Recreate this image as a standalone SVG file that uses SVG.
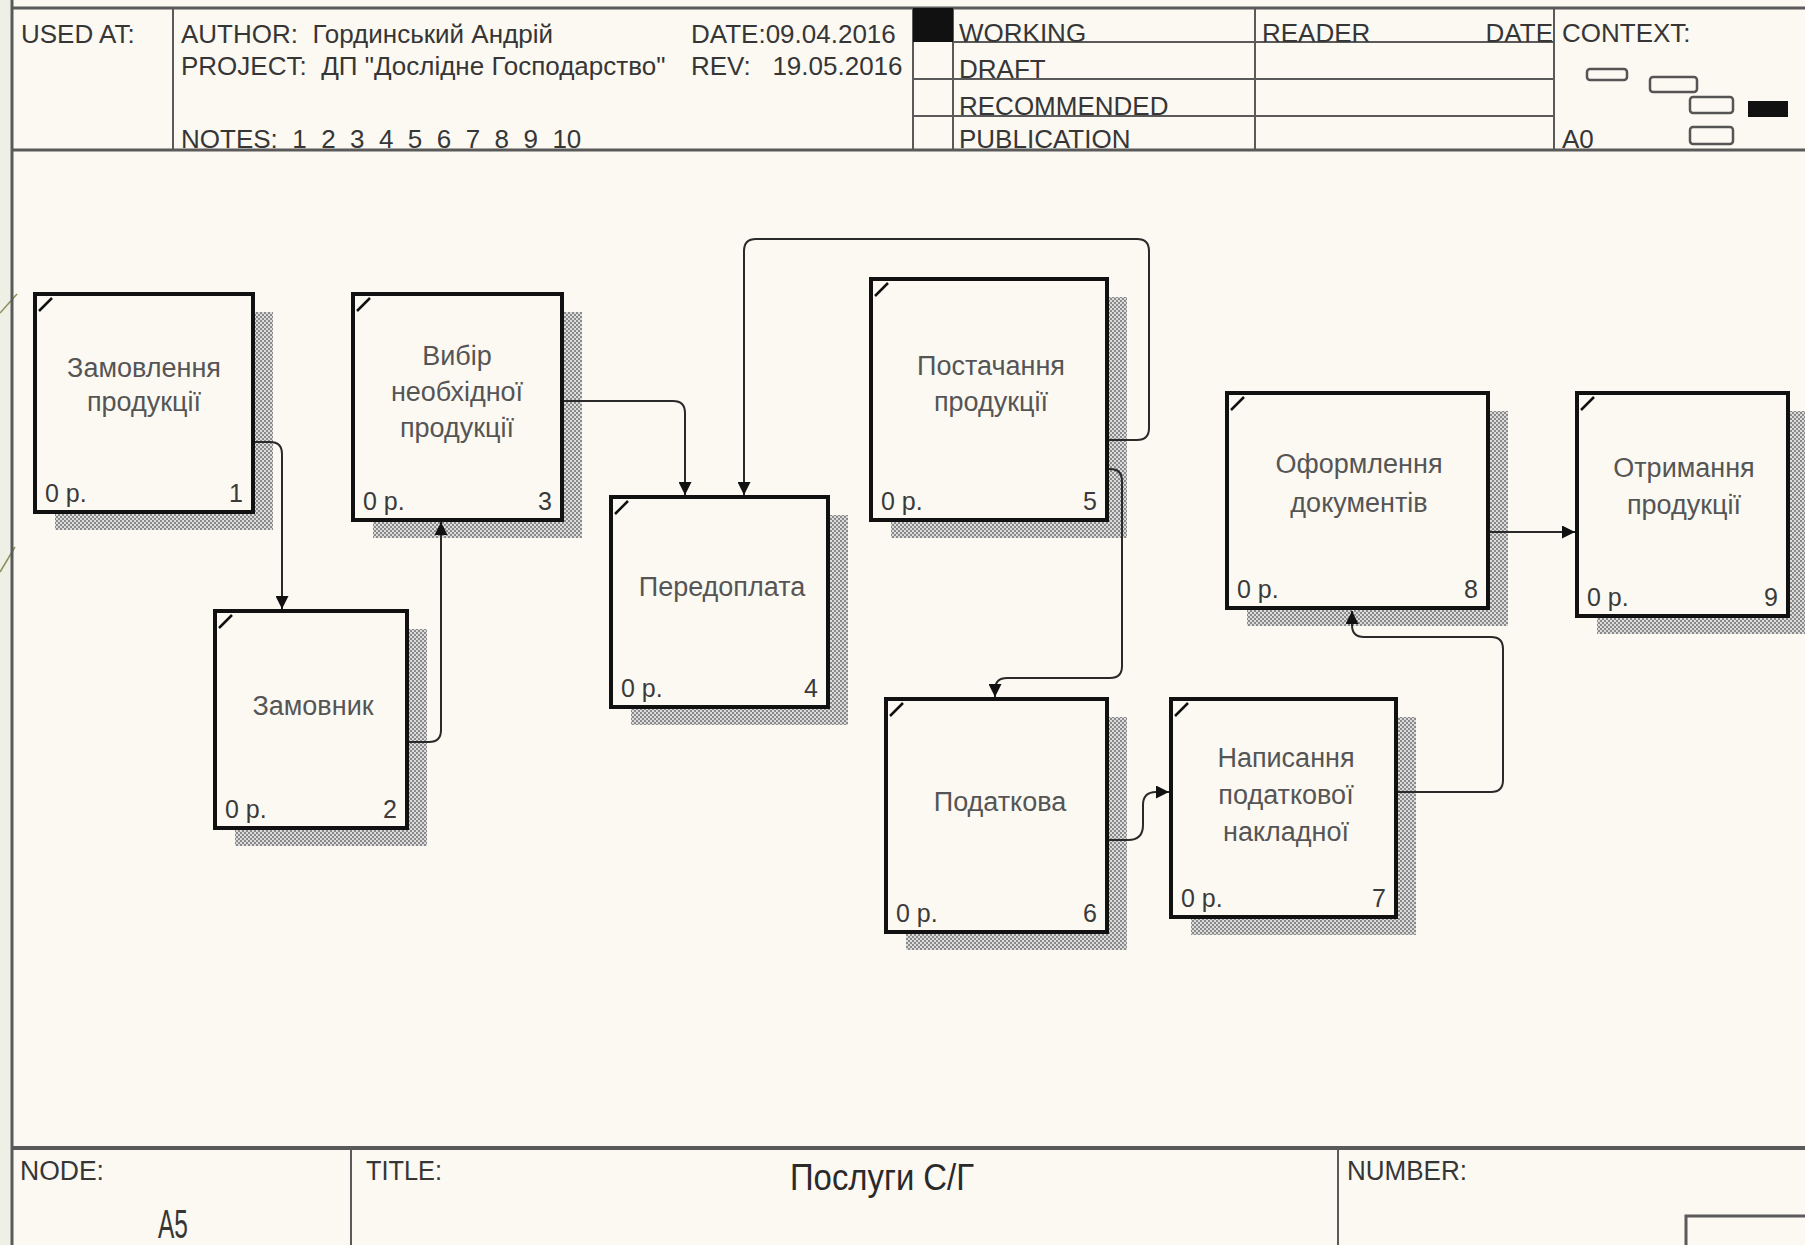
<svg xmlns="http://www.w3.org/2000/svg" width="1805" height="1245" viewBox="0 0 1805 1245">
<defs>
<style>
.frame{stroke:#5a5a5a;stroke-width:3;fill:none}
.thin{stroke:#5a5a5a;stroke-width:2;fill:none}
.hdr{font-family:'Liberation Sans',Arial,sans-serif;font-size:26px;fill:#363636}
.lbl{font-family:'Liberation Sans',Arial,sans-serif;font-size:27px;fill:#555;text-anchor:middle}
.cost{font-family:'Liberation Sans',Arial,sans-serif;font-size:25px;fill:#3a3a3a}
.num{font-family:'Liberation Sans',Arial,sans-serif;font-size:25px;fill:#3a3a3a;text-anchor:end}
.box{fill:#fcf9f3;stroke:#111;stroke-width:4}
.shadow{fill:url(#hatch)}
.corner{stroke:#111;stroke-width:2.5;fill:none}
.conn{stroke:#2a2a2a;stroke-width:2;fill:none}
.ctx{fill:none;stroke:#555;stroke-width:2.5}
</style>
<pattern id="hatch" width="4" height="4" patternUnits="userSpaceOnUse">
<rect width="4" height="4" fill="#dcdcdc"/>
<rect width="2" height="2" fill="#8a8a8a"/>
<rect x="2" y="2" width="2" height="2" fill="#8a8a8a"/>
</pattern>
<marker id="arr" viewBox="0 0 10 10" refX="10" refY="5" markerWidth="14" markerHeight="13" markerUnits="userSpaceOnUse" orient="auto">
<path d="M0,0 L10,5 L0,10 z" fill="#111"/>
</marker>
</defs>

<rect x="0" y="0" width="1805" height="1245" fill="#fcf9f3"/>
<rect x="0" y="0" width="11" height="1245" fill="#eef0e6"/>
<line x1="17" y1="294" x2="0" y2="313" stroke="#8a8f5a" stroke-width="1.5"/>
<line x1="15" y1="547" x2="0" y2="572" stroke="#8a8f5a" stroke-width="1.5"/>

<g id="frame">
<line class="frame" x1="12" y1="0" x2="12" y2="1245"/>
<line class="frame" x1="12" y1="8" x2="1805" y2="8"/>
<line class="frame" x1="12" y1="150" x2="1805" y2="150"/>
<line class="frame" x1="12" y1="1148" x2="1805" y2="1148" style="stroke-width:4px"/>
<line class="thin" x1="173" y1="8" x2="173" y2="150"/>
<line class="thin" x1="913" y1="8" x2="913" y2="150"/>
<line class="thin" x1="953" y1="8" x2="953" y2="150"/>
<line class="thin" x1="1255" y1="8" x2="1255" y2="150"/>
<line class="thin" x1="1554" y1="8" x2="1554" y2="150"/>
<line class="thin" x1="953" y1="42" x2="1554" y2="42"/>
<line class="thin" x1="913" y1="79" x2="1554" y2="79"/>
<line class="thin" x1="913" y1="116" x2="1554" y2="116"/>
<rect x="913" y="8" width="40" height="34" fill="#111"/>
<line class="thin" x1="351" y1="1148" x2="351" y2="1245"/>
<line class="thin" x1="1338" y1="1148" x2="1338" y2="1245"/>
<path class="frame" d="M1686,1245 V1216 H1805"/>

<text class="hdr" x="21" y="43">USED AT:</text>
<text class="hdr" x="181" y="43" xml:space="preserve">AUTHOR:  Гординський Андрій</text>
<text class="hdr" x="691" y="43">DATE:09.04.2016</text>
<text class="hdr" x="181" y="75" xml:space="preserve">PROJECT:  ДП "Дослідне Господарство"</text>
<text class="hdr" x="691" y="75" xml:space="preserve">REV:   19.05.2016</text>
<text class="hdr" x="181" y="148" xml:space="preserve">NOTES:  1  2  3  4  5  6  7  8  9  10</text>
<text class="hdr" x="959" y="42">WORKING</text>
<text class="hdr" x="959" y="78">DRAFT</text>
<text class="hdr" x="959" y="115">RECOMMENDED</text>
<text class="hdr" x="959" y="148">PUBLICATION</text>
<text class="hdr" x="1262" y="42">READER</text>
<text class="hdr" x="1553" y="42" text-anchor="end">DATE</text>
<text class="hdr" x="1562" y="42">CONTEXT:</text>
<text class="hdr" x="1562" y="148">A0</text>
<rect class="ctx" x="1587" y="69" width="40" height="11" rx="3"/>
<rect class="ctx" x="1650" y="77" width="47" height="15" rx="3"/>
<rect class="ctx" x="1690" y="97" width="43" height="16" rx="3"/>
<rect x="1748" y="101" width="40" height="16" fill="#111"/>
<rect class="ctx" x="1690" y="127" width="43" height="17" rx="3"/>

<text class="hdr" x="20" y="1180" style="font-size:27px" textLength="84" lengthAdjust="spacingAndGlyphs">NODE:</text>
<text class="hdr" x="366" y="1180" style="font-size:27px" textLength="76" lengthAdjust="spacingAndGlyphs">TITLE:</text>
<text class="hdr" x="1347" y="1180" style="font-size:27px" textLength="120" lengthAdjust="spacingAndGlyphs">NUMBER:</text>
<text class="hdr" x="158" y="1238" style="font-size:40px" textLength="30" lengthAdjust="spacingAndGlyphs">A5</text>
<text class="hdr" x="790" y="1190" style="font-size:37px;fill:#2a2a2a" textLength="184" lengthAdjust="spacingAndGlyphs">Послуги С/Г</text>
</g>

<g id="node1">
<rect class="shadow" x="55" y="312" width="218" height="218"/>
<rect class="box" x="35" y="294" width="218" height="218"/>
<path class="corner" d="M39,311 L52,298"/>
<text class="lbl" x="144" y="377">Замовлення</text>
<text class="lbl" x="144" y="411">продукції</text>
<text class="cost" x="45" y="502">0 р.</text>
<text class="num" x="243" y="502">1</text>
</g>

<g id="node2">
<rect class="shadow" x="235" y="629" width="192" height="217"/>
<rect class="box" x="215" y="611" width="192" height="217"/>
<path class="corner" d="M219,628 L232,615"/>
<text class="lbl" x="313" y="715">Замовник</text>
<text class="cost" x="225" y="818">0 р.</text>
<text class="num" x="397" y="818">2</text>
</g>

<g id="node3">
<rect class="shadow" x="373" y="312" width="209" height="226"/>
<rect class="box" x="353" y="294" width="209" height="226"/>
<path class="corner" d="M357,311 L370,298"/>
<text class="lbl" x="457" y="365">Вибір</text>
<text class="lbl" x="457" y="401">необхідної</text>
<text class="lbl" x="457" y="437">продукції</text>
<text class="cost" x="363" y="510">0 р.</text>
<text class="num" x="552" y="510">3</text>
</g>

<g id="node4">
<rect class="shadow" x="631" y="515" width="217" height="210"/>
<rect class="box" x="611" y="497" width="217" height="210"/>
<path class="corner" d="M615,514 L628,501"/>
<text class="lbl" x="722" y="596">Передоплата</text>
<text class="cost" x="621" y="697">0 р.</text>
<text class="num" x="818" y="697">4</text>
</g>

<g id="node5">
<rect class="shadow" x="891" y="297" width="236" height="241"/>
<rect class="box" x="871" y="279" width="236" height="241"/>
<path class="corner" d="M875,296 L888,283"/>
<text class="lbl" x="991" y="375">Постачання</text>
<text class="lbl" x="991" y="411">продукції</text>
<text class="cost" x="881" y="510">0 р.</text>
<text class="num" x="1097" y="510">5</text>
</g>

<g id="node6">
<rect class="shadow" x="906" y="717" width="221" height="233"/>
<rect class="box" x="886" y="699" width="221" height="233"/>
<path class="corner" d="M890,716 L903,703"/>
<text class="lbl" x="1000" y="811">Податкова</text>
<text class="cost" x="896" y="922">0 р.</text>
<text class="num" x="1097" y="922">6</text>
</g>

<g id="node7">
<rect class="shadow" x="1191" y="717" width="225" height="218"/>
<rect class="box" x="1171" y="699" width="225" height="218"/>
<path class="corner" d="M1175,716 L1188,703"/>
<text class="lbl" x="1286" y="767">Написання</text>
<text class="lbl" x="1286" y="804">податкової</text>
<text class="lbl" x="1286" y="841">накладної</text>
<text class="cost" x="1181" y="907">0 р.</text>
<text class="num" x="1386" y="907">7</text>
</g>

<g id="node8">
<rect class="shadow" x="1247" y="411" width="261" height="215"/>
<rect class="box" x="1227" y="393" width="261" height="215"/>
<path class="corner" d="M1231,410 L1244,397"/>
<text class="lbl" x="1359" y="473">Оформлення</text>
<text class="lbl" x="1359" y="512">документів</text>
<text class="cost" x="1237" y="598">0 р.</text>
<text class="num" x="1478" y="598">8</text>
</g>

<g id="node9">
<rect class="shadow" x="1597" y="411" width="211" height="223"/>
<rect class="box" x="1577" y="393" width="211" height="223"/>
<path class="corner" d="M1581,410 L1594,397"/>
<text class="lbl" x="1684" y="477">Отримання</text>
<text class="lbl" x="1684" y="514">продукції</text>
<text class="cost" x="1587" y="606">0 р.</text>
<text class="num" x="1778" y="606">9</text>
</g>

<g id="connectors">
<path class="conn" marker-end="url(#arr)" d="M255,442 H270 Q282,442 282,454 V609"/>
<path class="conn" marker-end="url(#arr)" d="M409,742 H429 Q441,742 441,730 V522"/>
<path class="conn" marker-end="url(#arr)" d="M564,401 H673 Q685,401 685,413 V495"/>
<path class="conn" marker-end="url(#arr)" d="M1109,440 H1137 Q1149,440 1149,428 V251 Q1149,239 1137,239 H756 Q744,239 744,251 V495"/>
<path class="conn" marker-end="url(#arr)" d="M1109,469 H1110 Q1122,469 1122,481 V666 Q1122,678 1110,678 H1007 Q995,678 995,690 V697"/>
<path class="conn" marker-end="url(#arr)" d="M1109,840 H1128 Q1143,840 1143,825 V805 Q1143,792 1156,792 H1169"/>
<path class="conn" marker-end="url(#arr)" d="M1398,792 H1491 Q1503,792 1503,780 V649 Q1503,637 1491,637 H1364 Q1352,637 1352,625 V611"/>
<path class="conn" marker-end="url(#arr)" d="M1490,532 H1575"/>
</g>
</svg>
